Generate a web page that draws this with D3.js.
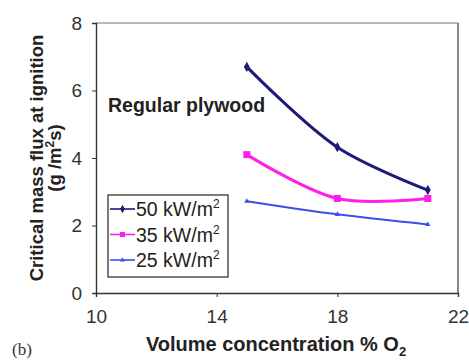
<!DOCTYPE html>
<html>
<head>
<meta charset="utf-8">
<script src="https://cdn.jsdelivr.net/npm/d3@7"></script>
<style>
  body { margin: 0; background: #fff; }
  text { font-family: "Liberation Sans", Arial, sans-serif; }
</style>
</head>
<body>
<div id="chart"></div>
<script>
'use strict';

// oxygen concentration (%)
const o2 = [15, 18, 21];
// critical mass flux (g/m2s) per heat flux
const flux50 = [6.70, 4.32, 3.05];
const flux35 = [4.10, 2.80, 2.80];
const flux25 = [2.72, 2.33, 2.03];
const seriesNames = ["50 kW/m", "35 kW/m", "25 kW/m"];
const xTicks = [10, 14, 18, 22];
const yTicks = [0, 2, 4, 6, 8];

var margin = { top: 23, right: 11, bottom: 67, left: 96 },
    width = 469 - margin.left - margin.right,
    height = 360 - margin.top - margin.bottom;

var x = d3.scaleLinear().domain([10, 22]).range([0, width]);
var y = d3.scaleLinear().domain([0, 8]).range([height, 0]);

var svg = d3.select("#chart").append("svg")
    .attr("width", 469)
    .attr("height", 360);

var g = svg.append("g")
    .attr("transform", "translate(" + margin.left + "," + margin.top + ")");

// frame top and right
g.append("line").attr("x1", 0).attr("x2", width).attr("y1", 0).attr("y2", 0)
    .style("stroke", "#777").style("stroke-width", "1.2px");
g.append("line").attr("x1", width).attr("x2", width).attr("y1", 0).attr("y2", height)
    .style("stroke", "#555").style("stroke-width", "1.4px");

var xAxis = d3.axisBottom(x).tickValues(xTicks).tickSize(4).tickPadding(13);
var yAxis = d3.axisLeft(y).tickValues(yTicks).tickSize(4).tickPadding(10);

var gx = g.append("g").attr("transform", "translate(0," + height + ")").call(xAxis);
var gy = g.append("g").call(yAxis);
[gx, gy].forEach(function (a) {
    a.select(".domain").style("stroke", "#333").style("stroke-width", "1.4px");
    a.selectAll(".tick line").style("stroke", "#333");
    a.selectAll(".tick text").style("font-size", "19px").style("fill", "#333")
        .style("font-family", "Liberation Sans, Arial, sans-serif");
});

var series = [
    { name: seriesNames[0], vals: flux50, color: "#1c1c78", w: 3, mark: "diamond", ms: 30 },
    { name: seriesNames[1], vals: flux35, color: "#ff1fe6", w: 3, mark: "square", ms: 7 },
    { name: seriesNames[2], vals: flux25, color: "#3a4fe8", w: 2, mark: "tri", ms: 12 }
];

var line = d3.line()
    .x(function (d) { return x(d[0]); })
    .y(function (d) { return y(d[1]); })
    .curve(d3.curveCatmullRom.alpha(0.5));

function marker(sel, s, px, py, size) {
    var ms = size || s.ms;
    if (s.mark === "square") {
        sel.append("rect").attr("x", px - ms / 2).attr("y", py - ms / 2)
            .attr("width", ms).attr("height", ms).style("fill", s.color);
    } else if (s.mark === "diamond") {
        sel.append("path").attr("d", d3.symbol(d3.symbolDiamond, ms)())
            .attr("transform", "translate(" + px + "," + py + ")").style("fill", s.color);
    } else {
        sel.append("path").attr("d", d3.symbol(d3.symbolTriangle, ms)())
            .attr("transform", "translate(" + px + "," + py + ")").style("fill", s.color);
    }
}

series.forEach(function (s) {
    var pts = o2.map(function (v, i) { return [v, s.vals[i]]; });
    g.append("path").datum(pts)
        .style("fill", "none")
        .style("stroke", s.color)
        .style("stroke-width", s.w + "px")
        .attr("d", line);
    pts.forEach(function (p) { marker(g, s, x(p[0]), y(p[1])); });
});

// annotation
svg.append("text").attr("x", 108).attr("y", 112)
    .style("font-size", "19.5px").style("font-weight", "bold").style("fill", "#222")
    .text("Regular plywood");

// legend
var lg = svg.append("g").attr("transform", "translate(108,195)");
lg.append("rect").attr("width", 120).attr("height", 82)
    .style("fill", "#fff").style("stroke", "#333").style("stroke-width", "1.3px");
series.forEach(function (s, i) {
    var cy = 14 + i * 25.5;
    lg.append("line").attr("x1", 2).attr("x2", 27).attr("y1", cy).attr("y2", cy)
        .style("stroke", s.color).style("stroke-width", "1.6px");
    marker(lg, s, 14.5, cy, s.mark === "square" ? 5 : (s.mark === "diamond" ? 20 : 10));
    var t = lg.append("text").attr("x", 28).attr("y", cy + 7)
        .style("font-size", "19.5px").style("fill", "#222");
    t.append("tspan").text(s.name);
    t.append("tspan").attr("dy", -8).style("font-size", "12px").text("2");
});

// y axis title
var yt = svg.append("text")
    .attr("transform", "translate(43,158) rotate(-90)")
    .attr("text-anchor", "middle")
    .style("font-size", "18.5px").style("font-weight", "bold").style("fill", "#222");
yt.append("tspan").attr("x", 0).attr("y", 0).text("Critical mass flux at ignition");
var yt2 = svg.append("text")
    .attr("transform", "translate(61,158) rotate(-90)")
    .attr("text-anchor", "middle")
    .style("font-size", "18.5px").style("font-weight", "bold").style("fill", "#222");
yt2.append("tspan").text("(g /m");
yt2.append("tspan").attr("dy", -7).style("font-size", "12px").text("2");
yt2.append("tspan").attr("dy", 7).text("s)");

// x axis title
var xt = svg.append("text").attr("x", 276).attr("y", 351)
    .attr("text-anchor", "middle")
    .style("font-size", "20px").style("font-weight", "bold").style("fill", "#222");
xt.append("tspan").text("Volume concentration % O");
xt.append("tspan").attr("dy", 5).style("font-size", "13px").text("2");

// panel label
svg.append("text").attr("x", 12).attr("y", 355)
    .style("font-family", "Liberation Serif, Times New Roman, serif")
    .style("font-size", "17px").style("fill", "#333")
    .text("(b)");
</script>
</body>
</html>
